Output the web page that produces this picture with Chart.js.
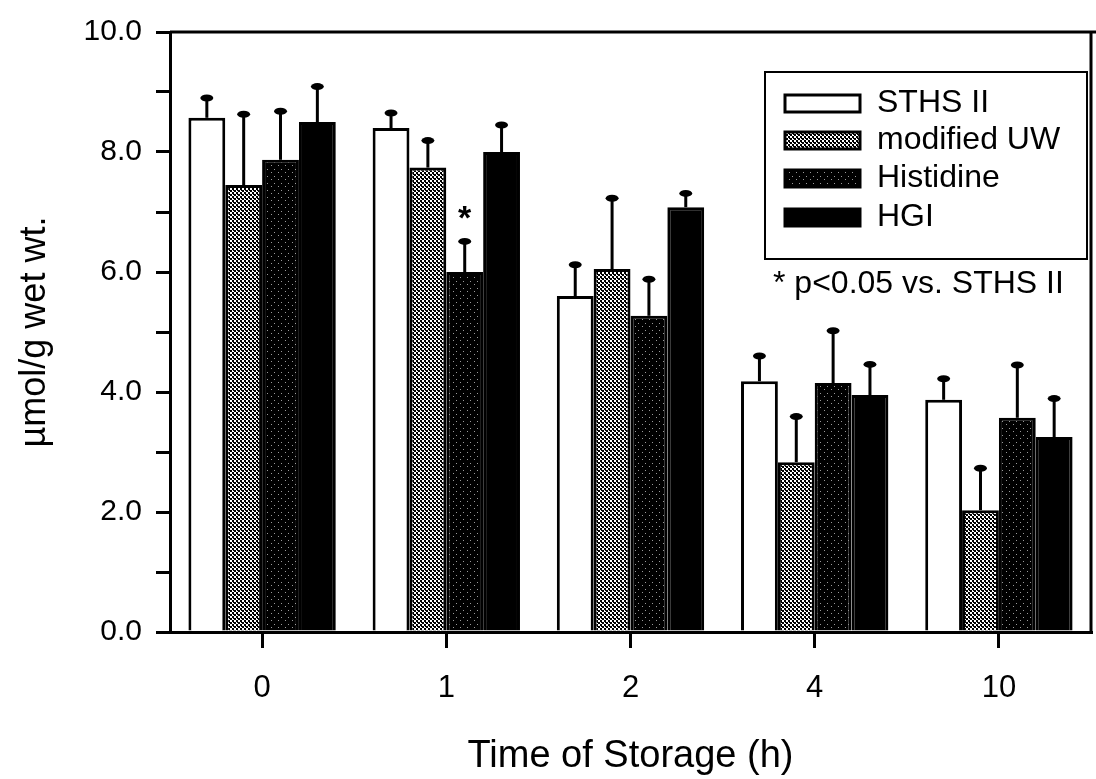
<!DOCTYPE html>
<html>
<head>
<meta charset="utf-8">
<script src="https://cdn.jsdelivr.net/npm/chart.js@4"></script>
<style>
    body { margin: 0; background: #fff; }
</style>
</head>
<body>
<canvas id="storage-chart" width="1096" height="779"></canvas>
<script>

const categories = ["0", "1", "2", "4", "10"];

const series_labels = ["STHS II", "modified UW", "Histidine", "HGI"];

const sths_values = [8.57, 8.40, 5.60, 4.18, 3.87];
const sths_errors = [0.33, 0.25, 0.52, 0.42, 0.35];

const uw_values = [7.45, 7.74, 6.05, 2.83, 2.03];
const uw_errors = [1.18, 0.45, 1.18, 0.76, 0.70];

const histidine_values = [7.87, 6.00, 5.27, 4.15, 3.57];
const histidine_errors = [0.81, 0.51, 0.61, 0.87, 0.88];

const hgi_values = [8.50, 8.00, 7.08, 3.95, 3.25];
const hgi_errors = [0.59, 0.45, 0.23, 0.51, 0.64];

// [dataset index, category index] marked with * p<0.05
const significant = [[2, 1]];

const y_ticks = [0, 2, 4, 6, 8, 10];

const font_family = "'Liberation Sans', Arial, sans-serif";

// halftone fills like the printed figure
function makePattern(size, drawPixels) {
    const tile = document.createElement("canvas");
    tile.width = size;
    tile.height = size;
    const tctx = tile.getContext("2d");
    drawPixels(tctx);
    return document.getElementById("storage-chart").getContext("2d").createPattern(tile, "repeat");
}

const uw_pattern = makePattern(4, function (c) {
    c.fillStyle = "#ffffff";
    c.fillRect(0, 0, 4, 4);
    c.fillStyle = "#000000";
    c.fillRect(0, 0, 2, 2);
    c.fillRect(2, 2, 2, 2);
    c.fillRect(1, 2, 1, 1);
});

const histidine_pattern = makePattern(7, function (c) {
    c.fillStyle = "#000000";
    c.fillRect(0, 0, 7, 7);
    c.fillStyle = "#9a9a9a";
    c.fillRect(1, 1, 1, 1);
    c.fillRect(5, 4, 1, 1);
});

const fills = ["#ffffff", uw_pattern, histidine_pattern, "#000000"];
const all_values = [sths_values, uw_values, histidine_values, hgi_values];
const all_errors = [sths_errors, uw_errors, histidine_errors, hgi_errors];

let bar_sets = [];
for (let i = 0; i < series_labels.length; i++) {
    bar_sets.push({
        label: series_labels[i],
        data: all_values[i],
        errors: all_errors[i],
        backgroundColor: fills[i],
        borderColor: "#000000",
        borderWidth: 3,
        barPercentage: 1.0,
        categoryPercentage: 0.8
    });
}

// upward error bars with small round caps, plus the * mark
const errorBars = {
    id: "errorBars",
    afterDatasetsDraw(chart) {
        const ctx = chart.ctx;
        const y_scale = chart.scales.y;
        ctx.save();
        ctx.strokeStyle = "#000";
        ctx.fillStyle = "#000";
        ctx.lineWidth = 3;
        chart.data.datasets.forEach(function (ds, i) {
            const meta = chart.getDatasetMeta(i);
            meta.data.forEach(function (bar, j) {
                const top = y_scale.getPixelForValue(ds.data[j] + ds.errors[j]);
                ctx.beginPath();
                ctx.moveTo(bar.x, bar.y);
                ctx.lineTo(bar.x, top);
                ctx.stroke();
                ctx.beginPath();
                ctx.ellipse(bar.x, top, 6.5, 3.5, 0, 0, Math.PI * 2);
                ctx.fill();
            });
        });
        ctx.font = "bold 34px " + font_family;
        ctx.textAlign = "center";
        ctx.textBaseline = "middle";
        significant.forEach(function (mark) {
            const ds = chart.data.datasets[mark[0]];
            const bar = chart.getDatasetMeta(mark[0]).data[mark[1]];
            const top = y_scale.getPixelForValue(ds.data[mark[1]] + ds.errors[mark[1]]);
            ctx.fillText("*", bar.x, top - 22);
        });
        ctx.restore();
    }
};

// frame top/right edge, boxed legend and the note underneath it
const frameAndLegend = {
    id: "frameAndLegend",
    afterDraw(chart) {
        const ctx = chart.ctx;
        const area = chart.chartArea;
        ctx.save();
        ctx.strokeStyle = "#000";
        ctx.lineWidth = 3;
        ctx.beginPath();
        ctx.moveTo(area.left, area.top);
        ctx.lineTo(chart.width, area.top);
        ctx.moveTo(area.right, area.top);
        ctx.lineTo(area.right, area.bottom);
        ctx.stroke();

        const box_x = area.right - 326;
        const box_y = area.top + 40;
        ctx.lineWidth = 2;
        ctx.fillStyle = "#fff";
        ctx.fillRect(box_x, box_y, 322, 187);
        ctx.strokeRect(box_x, box_y, 322, 187);

        ctx.font = "32px " + font_family;
        ctx.textBaseline = "middle";
        ctx.textAlign = "left";
        const row_y = [103, 140, 178, 217];
        chart.data.datasets.forEach(function (ds, i) {
            const y = row_y[i];
            ctx.fillStyle = ds.backgroundColor;
            ctx.fillRect(box_x + 20, y - 8, 75, 17);
            ctx.lineWidth = 3;
            ctx.strokeRect(box_x + 20, y - 8, 75, 17);
            ctx.fillStyle = "#000";
            ctx.fillText(ds.label, box_x + 112, y);
        });

        ctx.fillText("* p<0.05 vs. STHS II", box_x + 8, 284);
        ctx.restore();
    }
};

const config_bar = {
    type: "bar",
    data: {
        labels: categories,
        datasets: bar_sets
    },
    options: {
        responsive: false,
        animation: false,
        layout: {
            padding: { top: 25, right: 5, left: 0, bottom: 0 }
        },
        plugins: {
            legend: { display: false },
            tooltip: { enabled: false }
        },
        scales: {
            x: {
                grid: {
                    offset: false,
                    drawOnChartArea: false,
                    tickLength: 16,
                    lineWidth: 3,
                    color: "#000"
                },
                border: { color: "#000", width: 3 },
                ticks: {
                    color: "#000",
                    padding: 22,
                    font: { family: font_family, size: 31 }
                },
                title: {
                    display: true,
                    text: "Time of Storage (h)",
                    color: "#000",
                    font: { family: font_family, size: 38 },
                    padding: { top: 8, bottom: 0 }
                },
                afterFit: function (scale) { scale.height = 147; }
            },
            y: {
                min: 0,
                max: 10,
                grid: {
                    drawOnChartArea: false,
                    tickLength: 14,
                    lineWidth: 3,
                    color: "#000"
                },
                border: { color: "#000", width: 3 },
                ticks: {
                    stepSize: 1,
                    color: "#000",
                    padding: 14,
                    font: { family: font_family, size: 30 },
                    callback: function (value) {
                        return y_ticks.includes(value) ? value.toFixed(1) : "";
                    }
                },
                title: {
                    display: true,
                    text: "µmol/g wet wt.",
                    color: "#000",
                    font: { family: font_family, size: 36 },
                    padding: { top: 13, bottom: 0 }
                },
                afterFit: function (scale) { scale.width = 170; }
            }
        }
    },
    plugins: [errorBars, frameAndLegend]
};

const ctx_bar = document.getElementById("storage-chart").getContext("2d");
const bar_chart = new Chart(ctx_bar, config_bar);

</script>
</body>
</html>
